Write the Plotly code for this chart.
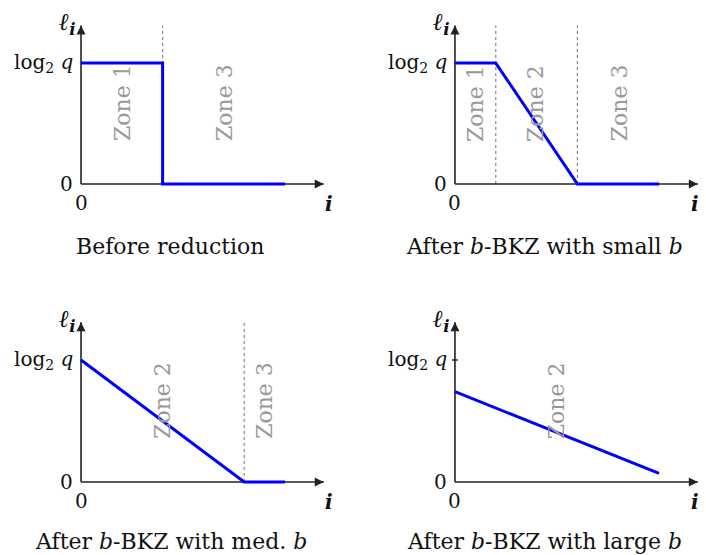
import plotly.graph_objects as go

# ---- data (i index normalised so the profile ends at 1; log2 q = 1) ----
titles = ["Before reduction",
          "After <i>b</i>-BKZ with small <i>b</i>",
          "After <i>b</i>-BKZ with med. <i>b</i>",
          "After <i>b</i>-BKZ with large <i>b</i>"]
profile_x = [[0, 0.4, 0.4, 1.0],
             [0, 0.2, 0.6, 1.0],
             [0, 0.8, 1.0],
             [0, 1.0]]
profile_y = [[1, 1, 0, 0],
             [1, 1, 0, 0],
             [1, 0, 0],
             [0.74, 0.07]]
zone_bounds = [[0.4], [0.2, 0.6], [0.8], []]
zone_names = [["Zone 1", "Zone 3"],
              ["Zone 1", "Zone 2", "Zone 3"],
              ["Zone 2", "Zone 3"],
              ["Zone 2"]]
zone_x = [[0.206, 0.706], [0.103, 0.397, 0.81], [0.40, 0.90], [0.495]]
zone_y = 0.67
ytick_labels = ["0", "log<sub>2</sub> <i>q</i>"]
ytick_vals = [0, 1]

# ---- layout geometry (page body adds an 8px offset) ----
W, H = 698, 547
xranges = [[-0.358, 1.353], [-0.480, 1.230], [-0.358, 1.353], [-0.480, 1.230]]
yranges = [[-0.806, 1.455], [-0.806, 1.455], [-0.598, 1.643], [-0.598, 1.643]]
xdomains = [[0, 0.5], [0.5, 1], [0, 0.5], [0.5, 1]]
ydomains = [[0.5, 1], [0.5, 1], [0, 0.5], [0, 0.5]]

BLUE = "#0000ff"
AXC = "#222222"
GRAY = "#999999"
TXT = "#111111"
FONT = "DejaVu Serif"

fig = go.Figure()
annotations = []
shapes = []

for k in range(4):
    xa = "x" if k == 0 else f"x{k+1}"
    ya = "y" if k == 0 else f"y{k+1}"
    xkey = "xaxis" if k == 0 else f"xaxis{k+1}"
    ykey = "yaxis" if k == 0 else f"yaxis{k+1}"
    fig.update_layout(**{
        xkey: dict(domain=xdomains[k], range=xranges[k], visible=False,
                   fixedrange=True, anchor=ya),
        ykey: dict(domain=ydomains[k], range=yranges[k], visible=False,
                   fixedrange=True, anchor=xa),
    })
    ytop = 1.31
    xend = 1.19
    right = k in (1, 3)
    # dotted zone boundaries
    for b in zone_bounds[k]:
        shapes.append(dict(type="line", xref=xa, yref=ya, x0=b, x1=b, y0=0, y1=ytop,
                           line=dict(color="#888888", width=1.2, dash="dot"), layer="below"))
    # zone labels
    for name, zx in zip(zone_names[k], zone_x[k]):
        annotations.append(dict(xref=xa, yref=ya, x=zx, y=zone_y, text=name,
                                showarrow=False, textangle=-90,
                                font=dict(family=FONT, size=22, color=GRAY)))
    # axes with arrowheads
    fig.add_trace(go.Scatter(x=[0, xend], y=[0, 0], mode="lines",
                             line=dict(color=AXC, width=1.6), xaxis=xa, yaxis=ya,
                             showlegend=False, hoverinfo="skip"))
    fig.add_trace(go.Scatter(x=[0, 0], y=[0, ytop], mode="lines",
                             line=dict(color=AXC, width=1.6), xaxis=xa, yaxis=ya,
                             showlegend=False, hoverinfo="skip"))
    fig.add_trace(go.Scatter(x=[xend], y=[0], mode="markers",
                             marker=dict(symbol="arrow-right", size=9, color=AXC),
                             xaxis=xa, yaxis=ya, showlegend=False, hoverinfo="skip"))
    fig.add_trace(go.Scatter(x=[0], y=[ytop], mode="markers",
                             marker=dict(symbol="arrow-up", size=9, color=AXC),
                             xaxis=xa, yaxis=ya, showlegend=False, hoverinfo="skip"))
    if k == 3:
        shapes.append(dict(type="line", xref=xa, yref=ya, x0=-0.014, x1=0.014, y0=1, y1=1,
                           line=dict(color=AXC, width=1.5)))
    # profile line
    fig.add_trace(go.Scatter(x=profile_x[k], y=profile_y[k], mode="lines",
                             line=dict(color=BLUE, width=3), xaxis=xa, yaxis=ya,
                             showlegend=False, hoverinfo="skip"))
    # y tick labels
    for tv, tl in zip(ytick_vals, ytick_labels):
        annotations.append(dict(xref=xa, yref=ya, x=0, y=tv, text=tl, showarrow=False,
                                xanchor="right", xshift=-6,
                                font=dict(family=FONT, size=20, color=TXT)))
    # origin label, axis names
    annotations.append(dict(xref=xa, yref=ya, x=0, y=0, text="0", showarrow=False,
                            yanchor="top", yshift=-5,
                            font=dict(family=FONT, size=20, color=TXT)))
    if right:
        # x-axis baseline position in paper coordinates for this row
        y0_paper = ydomains[k][0] + (0 - yranges[k][0]) / (yranges[k][1] - yranges[k][0]) * (ydomains[k][1] - ydomains[k][0])
        annotations.append(dict(xref="paper", yref="paper", x=1.0, y=y0_paper,
                                text="<i><b>i</b></i>", showarrow=False,
                                xanchor="right", yanchor="top", yshift=-6, xshift=-5,
                                font=dict(family=FONT, size=20, color=TXT)))
    else:
        annotations.append(dict(xref=xa, yref=ya, x=1.215, y=0,
                                text="<i><b>i</b></i>", showarrow=False,
                                yanchor="top", yshift=-6,
                                font=dict(family=FONT, size=20, color=TXT)))
    annotations.append(dict(xref=xa, yref=ya, x=0, y=ytop + 0.02,
                            text="<b><i>ℓ</i></b><sub><b><i>i</i></b></sub>", showarrow=False,
                            xanchor="right", xshift=-3, yanchor="middle",
                            font=dict(family=FONT, size=24, color=TXT)))
    # caption
    annotations.append(dict(xref=xa, yref=ya, x=0.44, y=-0.52 if k < 2 else -0.49,
                            text=titles[k], showarrow=False, yanchor="middle",
                            font=dict(family=FONT, size=22, color=TXT)))

fig.update_layout(width=W, height=H, margin=dict(l=0, r=0, t=0, b=0),
                  paper_bgcolor="white", plot_bgcolor="white",
                  annotations=annotations, shapes=shapes, showlegend=False)

fig.write_html("out.html")
